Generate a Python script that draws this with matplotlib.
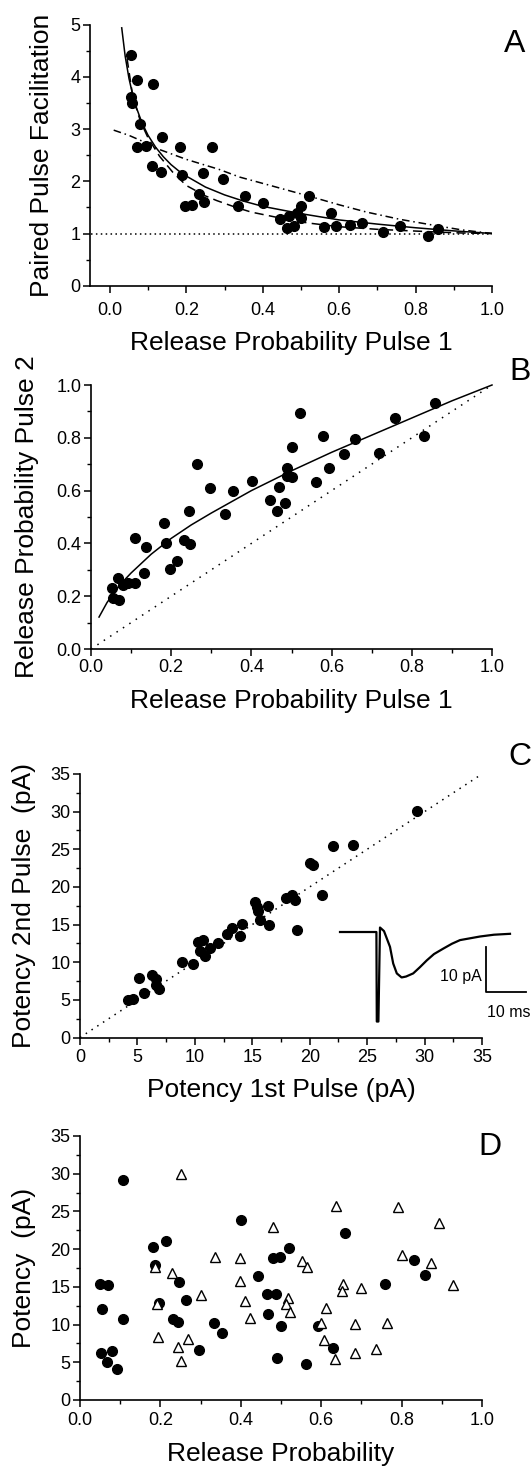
import numpy as np
import matplotlib.pyplot as plt
from matplotlib.ticker import MultipleLocator

plt.rcParams['font.family'] = ['Liberation Sans', 'DejaVu Sans']

# ---- Panel A: paired pulse facilitation vs release probability
a_p1 = [0.056, 0.071, 0.113, 0.055, 0.058, 0.080, 0.137, 0.071, 0.095, 0.184,
        0.267, 0.111, 0.133, 0.189, 0.245, 0.297, 0.520, 0.353, 0.233, 0.197,
        0.215, 0.246, 0.335, 0.402, 0.499, 0.490, 0.500, 0.444, 0.468, 0.464,
        0.481, 0.578, 0.561, 0.591, 0.629, 0.659, 0.716, 0.759, 0.832, 0.858]
a_ppf = [4.42, 3.94, 3.86, 3.62, 3.50, 3.09, 2.85, 2.66, 2.68, 2.66,
         2.65, 2.30, 2.18, 2.13, 2.15, 2.04, 1.72, 1.71, 1.76, 1.52,
         1.54, 1.61, 1.53, 1.59, 1.53, 1.39, 1.30, 1.27, 1.33, 1.11,
         1.14, 1.39, 1.12, 1.15, 1.16, 1.20, 1.03, 1.15, 0.96, 1.08]

a_solid_x = [0.031, 0.04, 0.05, 0.06, 0.07, 0.08, 0.09, 0.10, 0.12, 0.14, 0.16,
             0.18, 0.20, 0.25, 0.30, 0.35, 0.40, 0.50, 0.60, 0.70, 0.80, 0.90, 1.0]
a_solid_y = [4.94, 4.40, 3.97, 3.65, 3.40, 3.20, 3.03, 2.88, 2.65, 2.47, 2.32,
             2.20, 2.10, 1.89, 1.74, 1.62, 1.52, 1.38, 1.26, 1.18, 1.11, 1.05, 1.0]
a_dash_x = [0.045, 0.06, 0.08, 0.10, 0.13, 0.165, 0.20, 0.25, 0.28, 0.33, 0.37,
            0.45, 0.52, 0.60, 0.70, 0.76, 0.85, 0.92, 1.0]
a_dash_y = [4.35, 3.62, 3.15, 2.83, 2.48, 2.17, 1.92, 1.72, 1.63, 1.50, 1.41,
            1.29, 1.20, 1.13, 1.08, 1.06, 1.03, 1.01, 1.0]
a_dd_x = [0.01, 0.05, 0.10, 0.122, 0.20, 0.285, 0.34, 0.42, 0.524, 0.60, 0.672,
          0.76, 0.846, 0.92, 1.0]
a_dd_y = [2.98, 2.88, 2.72, 2.63, 2.42, 2.23, 2.08, 1.92, 1.71, 1.55, 1.41,
          1.27, 1.16, 1.07, 1.0]
a_unity_x = [-0.05, 1.0]
a_unity_y = [1.0, 1.0]

# ---- Panel B: release probability pulse 2 vs pulse 1
b_p1 = [0.053, 0.055, 0.071, 0.068, 0.080, 0.093, 0.110, 0.110, 0.136, 0.132,
        0.182, 0.187, 0.198, 0.215, 0.232, 0.246, 0.244, 0.265, 0.297, 0.334,
        0.353, 0.402, 0.447, 0.465, 0.468, 0.483, 0.489, 0.489, 0.500, 0.500,
        0.520, 0.561, 0.578, 0.593, 0.631, 0.659, 0.717, 0.759, 0.831, 0.858]
b_p2 = [0.230, 0.193, 0.187, 0.269, 0.242, 0.250, 0.250, 0.420, 0.385, 0.288,
        0.479, 0.401, 0.303, 0.335, 0.411, 0.398, 0.523, 0.699, 0.608, 0.513,
        0.599, 0.638, 0.565, 0.521, 0.613, 0.552, 0.687, 0.657, 0.651, 0.764,
        0.895, 0.633, 0.805, 0.686, 0.738, 0.796, 0.741, 0.876, 0.805, 0.933]
b_fit_x = [0.02, 0.04, 0.06, 0.08, 0.10, 0.15, 0.20, 0.25, 0.30, 0.40, 0.50,
           0.60, 0.70, 0.80, 0.90, 1.0]
b_fit_y = [0.121, 0.176, 0.219, 0.256, 0.288, 0.359, 0.419, 0.470, 0.515, 0.600,
           0.675, 0.745, 0.810, 0.875, 0.940, 1.0]
b_diag = [0.0, 1.0]

# ---- Panel C: potency 2nd pulse vs 1st pulse
c_q1 = [4.18, 4.62, 5.12, 5.54, 6.31, 6.66, 6.66, 6.84, 8.92, 9.86,
        10.25, 10.69, 10.46, 10.87, 11.34, 12.03, 12.83, 13.21, 14.07, 13.95,
        15.25, 15.40, 15.49, 15.67, 16.41, 16.44, 17.95, 18.45, 18.75, 18.93,
        20.05, 20.29, 21.06, 22.07, 23.79, 29.35]
c_q2 = [5.01, 5.10, 7.89, 5.89, 8.29, 7.75, 7.00, 6.42, 10.01, 9.79,
        12.63, 12.89, 11.43, 10.77, 11.87, 12.54, 13.74, 14.53, 15.11, 13.42,
        17.99, 17.32, 16.75, 15.64, 17.41, 14.98, 18.52, 18.92, 18.21, 14.31,
        23.17, 22.91, 18.87, 25.48, 25.52, 30.04]
c_diag = [0.0, 35.0]

# inset trace (ms, pA relative to baseline)
trace_t = [0.0, 9.1, 9.2, 9.6, 10.0, 11.0, 12.5, 13.3, 14.2, 15.4, 16.5, 18.3,
           20.0, 21.7, 23.5, 25.8, 28.0, 30.0, 32.5, 35.0, 38.5, 42.5]
trace_i = [0.0, 0.0, -19.9, -19.9, 1.0, 0.2, -3.3, -7.0, -9.2, -10.1, -9.9, -9.2,
           -7.8, -6.3, -4.9, -3.7, -2.6, -1.8, -1.4, -1.0, -0.6, -0.4]

# ---- Panel D: potency vs release probability
d_fill_p = [0.108, 0.049, 0.069, 0.054, 0.108, 0.053, 0.079, 0.068, 0.093, 0.181,
            0.213, 0.186, 0.197, 0.246, 0.264, 0.231, 0.243, 0.297, 0.334, 0.352,
            0.401, 0.444, 0.464, 0.467, 0.488, 0.481, 0.498, 0.519, 0.499, 0.490,
            0.561, 0.591, 0.630, 0.658, 0.758, 0.830, 0.857]
d_fill_q = [29.2, 15.4, 15.2, 12.0, 10.8, 6.28, 6.55, 5.09, 4.16, 20.3,
            21.1, 17.96, 12.83, 15.7, 13.2, 10.7, 10.4, 6.64, 10.2, 8.94,
            23.8, 16.5, 14.0, 11.46, 14.0, 18.8, 18.9, 20.2, 9.87, 5.62,
            4.73, 9.87, 6.95, 22.2, 15.4, 18.6, 16.6]
d_open_p = [0.250, 0.186, 0.229, 0.192, 0.195, 0.244, 0.252, 0.269, 0.302, 0.335,
            0.397, 0.397, 0.411, 0.422, 0.480, 0.551, 0.564, 0.518, 0.513, 0.522,
            0.600, 0.613, 0.608, 0.635, 0.637, 0.654, 0.651, 0.698, 0.684, 0.684,
            0.736, 0.763, 0.792, 0.801, 0.873, 0.894, 0.928]
d_open_q = [29.95, 17.6, 16.8, 12.7, 8.32, 6.99, 5.18, 8.05, 13.9, 18.9,
            18.8, 15.75, 13.1, 10.9, 23.0, 18.45, 17.6, 13.5, 12.7, 11.7,
            10.2, 12.2, 7.97, 5.49, 25.7, 15.4, 14.5, 14.9, 10.1, 6.19,
            6.77, 10.2, 25.6, 19.2, 18.2, 23.4, 15.3]

W, H = 532, 1469
fig = plt.figure(figsize=(W / 100, H / 100), dpi=100)


def box(l, t, r, b):
    return [l / W, 1 - b / H, (r - l) / W, (b - t) / H]


def style(ax, pad):
    for s in ['top', 'right']:
        ax.spines[s].set_visible(False)
    for s in ['left', 'bottom']:
        ax.spines[s].set_linewidth(1.2)
    ax.tick_params(which='major', direction='out', length=5, width=1.1,
                   labelsize=13)
    ax.tick_params(which='minor', direction='out', length=3, width=1.0)
    ax.tick_params(axis='x', which='major', pad=pad)
    ax.tick_params(axis='y', which='major', pad=2)


def labels(ax, xl, yl, ylx, xly):
    ax.set_xlabel(xl, fontsize=19)
    ax.set_ylabel(yl, fontsize=19)
    ax.yaxis.set_label_coords(ylx, 0.5)
    ax.xaxis.set_label_coords(0.5, xly)


dot = dict(ms=7.0, color='black', ls='none', marker='o', clip_on=False)

# Panel A
axA = fig.add_axes(box(90, 24.7, 492, 285.7))
axA.plot(a_unity_x, a_unity_y, color='black', lw=1.1, ls=(0, (1, 2.2)))
axA.plot(a_dd_x, a_dd_y, color='black', lw=1.1, ls=(0, (5, 2.5, 1, 2.5)))
axA.plot(a_dash_x, a_dash_y, color='black', lw=1.1, ls=(0, (6, 3.5)))
axA.plot(a_solid_x, a_solid_y, color='black', lw=1.1)
axA.plot(a_p1, a_ppf, **dot)
axA.set_xlim(-0.052, 1.0)
axA.set_ylim(0, 5)
axA.xaxis.set_major_locator(MultipleLocator(0.2))
axA.set_xticks(np.arange(0.1, 1.0, 0.2), minor=True)
axA.yaxis.set_major_locator(MultipleLocator(1))
axA.yaxis.set_minor_locator(MultipleLocator(0.5))
axA.xaxis.set_major_formatter(lambda v, p: f'{v:.1f}')
style(axA, 6.5)
labels(axA, 'Release Probability Pulse 1', 'Paired Pulse Facilitation',
       -0.09, -0.175)

# Panel B
axB = fig.add_axes(box(91, 385, 492, 649))
axB.plot(b_diag, b_diag, color='black', lw=1.1, ls=(0, (1, 4)))
axB.plot(b_fit_x, b_fit_y, color='black', lw=1.1, clip_on=False)
axB.plot(b_p1, b_p2, **dot)
axB.set_xlim(0, 1)
axB.set_ylim(0, 1)
axB.xaxis.set_major_locator(MultipleLocator(0.2))
axB.xaxis.set_minor_locator(MultipleLocator(0.1))
axB.yaxis.set_major_locator(MultipleLocator(0.2))
axB.yaxis.set_minor_locator(MultipleLocator(0.1))
axB.xaxis.set_major_formatter(lambda v, p: f'{v:.1f}')
axB.yaxis.set_major_formatter(lambda v, p: f'{v:.1f}')
style(axB, 2.5)
labels(axB, 'Release Probability Pulse 1', 'Release Probability Pulse 2',
       -0.13, -0.15)

# Panel C
axC = fig.add_axes(box(80, 774, 482, 1037.5))
axC.plot(c_diag, c_diag, color='black', lw=1.1, ls=(0, (1, 3.5)))
axC.plot(c_q1, c_q2, **dot)
axC.set_xlim(0, 35)
axC.set_ylim(0, 35)
for a in (axC.xaxis, axC.yaxis):
    a.set_major_locator(MultipleLocator(5))
    a.set_minor_locator(MultipleLocator(2.5))
style(axC, 3.5)
labels(axC, 'Potency 1st Pulse (pA)', 'Potency 2nd Pulse  (pA)', -0.11, -0.155)

# inset trace
axI = fig.add_axes(box(335, 920, 531, 1025))
axI.plot(trace_t, trace_i, color='black', lw=1.6)
axI.plot([36.5, 36.5, 46.5], [-3.3, -13.3, -13.3], color='black', lw=1.3)
axI.text(35.5, -9.8, '10 pA', ha='right', va='center', fontsize=11.5)
axI.text(42.3, -17.9, '10 ms', ha='center', va='center', fontsize=11.5)
axI.set_xlim(-1.25, 47.75)
axI.set_ylim(-20.67, 2.67)
axI.axis('off')

# Panel D
axD = fig.add_axes(box(80, 1136, 482, 1400))
axD.plot(d_fill_p, d_fill_q, **dot)
axD.plot(d_open_p, d_open_q, ls='none', marker='^', ms=7.0, mfc='white',
         mec='black', mew=1.0, clip_on=False)
axD.set_xlim(0, 1)
axD.set_ylim(0, 35)
axD.xaxis.set_major_locator(MultipleLocator(0.2))
axD.xaxis.set_minor_locator(MultipleLocator(0.1))
axD.yaxis.set_major_locator(MultipleLocator(5))
axD.yaxis.set_minor_locator(MultipleLocator(2.5))
axD.xaxis.set_major_formatter(lambda v, p: f'{v:.1f}')
style(axD, 3.5)
labels(axD, 'Release Probability', 'Potency  (pA)', -0.11, -0.16)

# panel letters
for letter, (px, py) in zip('ABCD', [(515, 44), (520, 372), (520, 757), (490, 1147)]):
    fig.text(px / W, 1 - py / H, letter, fontsize=23, ha='center', va='center')

fig.savefig('out.png', dpi=100)
